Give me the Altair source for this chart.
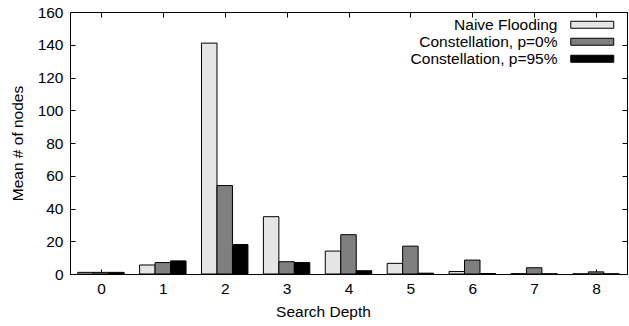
import altair as alt
import pandas as pd

depths = [0, 1, 2, 3, 4, 5, 6, 7, 8]
series_names = ["Naive Flooding", "Constellation, p=0%", "Constellation, p=95%"]
naive = [1.0, 5.5, 141.0, 35.0, 14.0, 6.5, 1.5, 0.2, 0.1]
const0 = [1.0, 7.0, 54.0, 7.5, 24.0, 17.0, 8.5, 3.8, 1.3]
const95 = [1.0, 8.0, 18.0, 7.0, 2.0, 0.5, 0.3, 0.1, 0.1]
colors = ["#e5e5e5", "#7f7f7f", "#000000"]
y_ticks = [0, 20, 40, 60, 80, 100, 120, 140, 160]

rows = []
for si, (name, vals) in enumerate(zip(series_names, [naive, const0, const95])):
    for d, v in zip(depths, vals):
        rows.append({"depth": d, "series": name, "idx": si, "value": v})
df = pd.DataFrame(rows)

FONT = "Liberation Sans"
FS = 15.5
W, H = 557, 262

base = alt.Chart(df).transform_calculate(
    x1="datum.depth + (datum.idx - 1) * 0.25 - 0.125",
    x2="datum.depth + (datum.idx - 1) * 0.25 + 0.125",
)

xscale = alt.Scale(domain=[-0.5, 8.5], nice=False, zero=False)
yscale = alt.Scale(domain=[0, 160], nice=False)

bars = base.mark_bar(stroke="black", strokeWidth=1).encode(
    x=alt.X("x1:Q", scale=xscale,
            axis=alt.Axis(values=depths, title="Search Depth", orient="bottom",
                          grid=False, domain=False, tickSize={"expr": "-5"},
                          tickColor="black", labelPadding=12, titlePadding=8,
                          titleX=253, titleAlign="center",
                          labelFont=FONT, titleFont=FONT, labelFontSize=FS,
                          titleFontSize=FS, titleFontWeight="normal",
                          labelColor="black", titleColor="black", format="d")),
    x2="x2:Q",
    y=alt.Y("value:Q", scale=yscale,
            axis=alt.Axis(values=y_ticks, title="Mean # of nodes", orient="left",
                          grid=False, domain=False, tickSize={"expr": "-5"},
                          tickColor="black", labelPadding=12, titlePadding=12,
                          labelFont=FONT, titleFont=FONT, labelFontSize=FS,
                          titleFontSize=FS, titleFontWeight="normal",
                          labelColor="black", titleColor="black")),
    y2=alt.datum(0),
    fill=alt.Fill("series:N", scale=alt.Scale(domain=series_names, range=colors),
                  legend=alt.Legend(title=None, orient="none", legendX=514.5, legendY=5,
                                    symbolType="M-4.3,-0.7H4.3V0.7H-4.3Z",
                                    symbolSize=100, symbolStrokeColor="black",
                                    symbolStrokeWidth=1, labelAlign="right",
                                    labelOffset={"expr": "-42.5"}, labelFont=FONT,
                                    labelFontSize=FS, labelColor="black",
                                    rowPadding=0, padding=0,
                                    labelLimit=400)),
)

mirror = base.mark_bar(opacity=0).encode(
    x=alt.X("x1:Q", scale=xscale,
            axis=alt.Axis(values=depths, title=None, orient="top", labels=False,
                          grid=False, domain=False, tickSize={"expr": "-5"},
                          tickColor="black")),
    x2="x2:Q",
    y=alt.Y("value:Q", scale=yscale,
            axis=alt.Axis(values=y_ticks, title=None, orient="right", labels=False,
                          grid=False, domain=False, tickSize={"expr": "-5"},
                          tickColor="black")),
    y2=alt.datum(0),
)

chart = alt.layer(bars, mirror).resolve_axis(x="independent", y="independent").properties(
    width=W, height=H,
    autosize=alt.AutoSizeParams(type="none"),
    padding={"left": 70, "top": 12, "right": 2, "bottom": 52},
    background="white",
).configure_view(stroke="black", strokeWidth=1)

chart.save("out.html", embed_options={"renderer": "svg", "actions": False})
